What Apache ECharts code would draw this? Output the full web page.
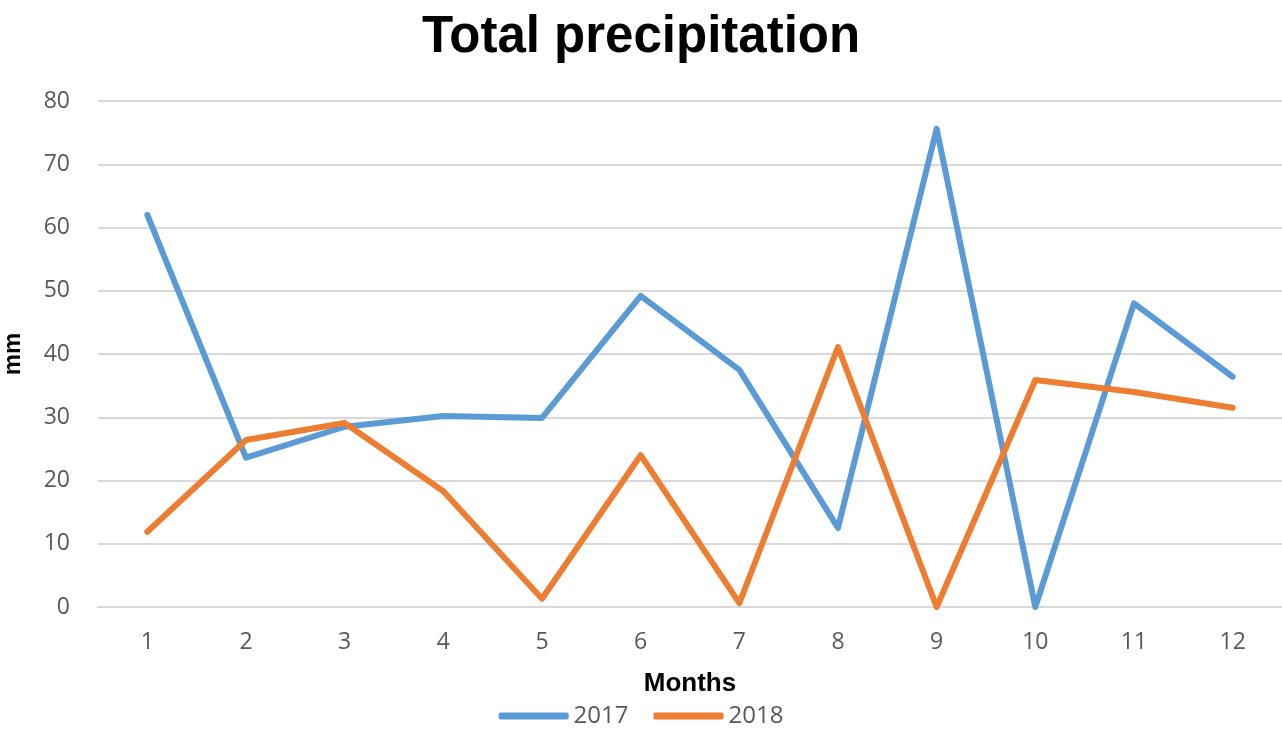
<!DOCTYPE html>
<html>
<head>
<meta charset="utf-8">
<script src="https://cdn.jsdelivr.net/npm/echarts@6/dist/echarts.min.js"></script>
<style>
  html, body { margin: 0; padding: 0; background: #ffffff; }
  #chart { width: 1282px; height: 735px; }
</style>
</head>
<body>
<div id="chart"></div>
<script>
// Monthly total precipitation (mm)
const months = ['1', '2', '3', '4', '5', '6', '7', '8', '9', '10', '11', '12'];
const precip2017 = [62.0, 23.6, 28.5, 30.2, 29.9, 49.2, 37.5, 12.5, 75.6, 0.0, 48.0, 36.4];
const precip2018 = [11.9, 26.4, 29.1, 18.3, 1.3, 24.0, 0.6, 41.1, 0.0, 35.9, 34.0, 31.5];
const yTicks = { min: 0, max: 80, interval: 10 };

const chart = echarts.init(document.getElementById('chart'), null, { renderer: 'canvas' });

const tickFont = { color: '#595959', fontSize: 23, fontFamily: 'Open Sans, Liberation Sans, sans-serif' };

chart.setOption({
  animation: false,
  backgroundColor: '#ffffff',
  title: {
    text: 'Total precipitation',
    left: 'center',
    top: 7,
    textStyle: { fontSize: 51, fontWeight: 'bold', color: '#000000', fontFamily: 'Liberation Sans, Arial, sans-serif' }
  },
  legend: {
    bottom: 2,
    left: 'center',
    itemWidth: 70,
    itemHeight: 7,
    itemGap: 25,
    icon: 'roundRect',
    textStyle: { color: '#595959', fontSize: 24, fontFamily: 'Open Sans, Liberation Sans, sans-serif' },
    data: ['2017', '2018']
  },
  grid: { left: 98, right: 0, top: 101, bottom: 128, containLabel: false, outerBoundsMode: 'none' },
  xAxis: {
    type: 'category',
    data: months,
    boundaryGap: true,
    name: 'Months',
    nameLocation: 'middle',
    nameGap: 64,
    nameTextStyle: { color: '#000000', fontSize: 26, fontWeight: 'bold', fontFamily: 'Liberation Sans, Arial, sans-serif' },
    axisLine: { show: true, lineStyle: { color: '#d9d9d9', width: 2 } },
    axisTick: { show: false },
    axisLabel: Object.assign({ margin: 24 }, tickFont)
  },
  yAxis: {
    type: 'value',
    min: yTicks.min,
    max: yTicks.max,
    interval: yTicks.interval,
    name: 'mm',
    nameLocation: 'middle',
    nameGap: 73,
    nameRotate: 90,
    nameTextStyle: { color: '#000000', fontSize: 24, fontWeight: 'bold', fontFamily: 'Liberation Sans, Arial, sans-serif' },
    axisLine: { show: false },
    axisTick: { show: false },
    axisLabel: Object.assign({ margin: 28 }, tickFont),
    splitLine: { lineStyle: { color: '#d9d9d9', width: 2 } }
  },
  series: [
    {
      name: '2017',
      type: 'line',
      data: precip2017,
      symbol: 'none',
      lineStyle: { color: '#5B9BD5', width: 6, cap: 'round', join: 'round' },
      itemStyle: { color: '#5B9BD5' }
    },
    {
      name: '2018',
      type: 'line',
      data: precip2018,
      symbol: 'none',
      lineStyle: { color: '#ED7D31', width: 6, cap: 'round', join: 'round' },
      itemStyle: { color: '#ED7D31' }
    }
  ]
});
</script>
</body>
</html>
